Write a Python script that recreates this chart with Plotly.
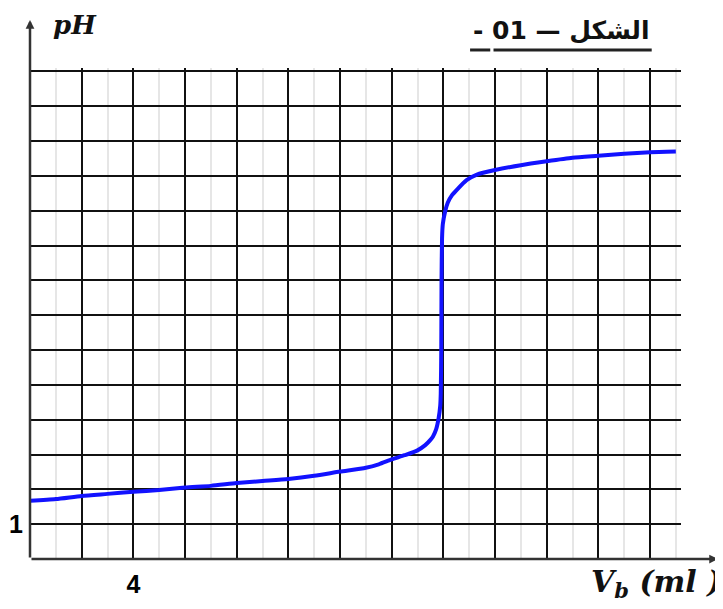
import plotly.graph_objects as go

# Titration curve: base volume added (ml) vs pH
volume_ml = [0, 1, 2, 3, 4, 5, 6, 7, 8, 9, 10, 11, 12, 13, 13.5, 14, 14.5, 15, 15.3, 15.5,
             15.6, 15.72, 15.82, 15.88, 15.9, 15.92, 15.93, 15.95, 15.98, 16.07, 16.17, 16.33,
             16.52, 16.9, 17.3, 18, 19, 20, 21, 22, 23, 24, 25]
ph_values = [1.67, 1.72, 1.81, 1.87, 1.93, 1.98, 2.05, 2.10, 2.18, 2.24, 2.30, 2.39, 2.51, 2.62, 2.72,
             2.86, 2.98, 3.12, 3.27, 3.42, 3.52, 3.72, 4.05, 4.4, 4.75, 6.0, 8.0, 9.2, 9.62, 9.98,
             10.23, 10.44, 10.6, 10.88, 11.04, 11.17, 11.31, 11.42, 11.52, 11.58, 11.64, 11.68, 11.7]

x_tickvals = list(range(0, 25, 2))
x_ticktext = ["<b>4</b>" if v == 4 else "" for v in x_tickvals]
y_tickvals = list(range(0, 15))
y_ticktext = ["<b>1</b>" if v == 1 else "" for v in y_tickvals]

title_text = "<b>- 01 — الشكل</b>"
x_label = "<b><i>V<sub>b</sub> (ml )</i></b>"
y_label = "<b><i>pH</i></b>"

fig = go.Figure()
fig.add_trace(go.Scatter(
    x=volume_ml, y=ph_values, mode="lines",
    line=dict(color="#1212ff", width=4, shape="spline", smoothing=0.6),
    showlegend=False, hoverinfo="skip",
))

# the page body adds an 8px margin, so the figure is 8px smaller and margins compensate
fig.update_layout(
    width=715, height=601,
    margin=dict(l=22, r=42, t=60, b=50, autoexpand=False),
    paper_bgcolor="white", plot_bgcolor="white",
    xaxis=dict(
        range=[0, 25.2], tickmode="array", tickvals=x_tickvals, ticktext=x_ticktext,
        showgrid=True, gridcolor="#111111", gridwidth=2, automargin=False,
        minor=dict(tickmode="linear", tick0=0, dtick=1, showgrid=True,
                   gridcolor="#e6e6e6", gridwidth=2),
        zeroline=False, showline=False, ticks="",
        tickfont=dict(family="Liberation Sans, Arial", size=25, color="black"),
        ticklabelstandoff=8,
    ),
    yaxis=dict(
        range=[0, 14.1], tickmode="array", tickvals=y_tickvals, ticktext=y_ticktext,
        showgrid=True, gridcolor="#111111", gridwidth=2, automargin=False,
        zeroline=False, showline=False, ticks="",
        tickfont=dict(family="Liberation Sans, Arial", size=25, color="black"),
        ticklabelstandoff=6,
    ),
)

# axis lines with arrows
fig.add_annotation(x=0, y=1.0978, xref="paper", yref="paper", text="", showarrow=True,
                   ax=0, ay=539, arrowhead=2, arrowsize=0.7, arrowwidth=2.5,
                   arrowcolor="#333333")
fig.add_annotation(x=1.0568, y=0, xref="paper", yref="paper", text="", showarrow=True,
                   ax=-688, ay=0, arrowhead=2, arrowsize=0.7, arrowwidth=2.5,
                   arrowcolor="#333333")

# labels
fig.add_annotation(x=0.069, y=1.0876, xref="paper", yref="paper", text=y_label,
                   showarrow=False, xanchor="center", yanchor="middle",
                   font=dict(family="DejaVu Serif, Liberation Serif", size=26, color="#111111"))
fig.add_annotation(x=1.064, y=-0.05, xref="paper", yref="paper", text=x_label,
                   showarrow=False, xanchor="right", yanchor="middle",
                   font=dict(family="DejaVu Serif, Liberation Serif", size=30, color="#111111"))
fig.add_annotation(x=0.816, y=1.077, xref="paper", yref="paper", text=title_text,
                   showarrow=False, xanchor="center", yanchor="middle",
                   font=dict(family="DejaVu Sans, Liberation Sans", size=25, color="#111111"))

# underline of the figure title
fig.add_shape(type="line", xref="paper", yref="paper", x0=0.676, x1=0.707, y0=1.0367, y1=1.0367,
              line=dict(color="#222222", width=3))
fig.add_shape(type="line", xref="paper", yref="paper", x0=0.712, x1=0.955, y0=1.0367, y1=1.0367,
              line=dict(color="#222222", width=3))

fig.write_html("out.html")
